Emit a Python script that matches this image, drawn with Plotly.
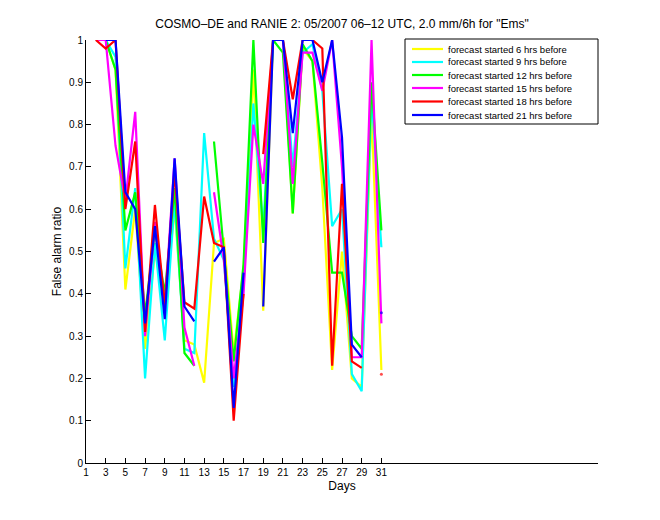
import plotly.graph_objects as go

days = list(range(1, 32))
N = None
fc6 = [N, 1.0, 1.0, 0.93, 0.41, 0.60, 0.27, 0.50, 0.38, 0.60, 0.29, 0.28, 0.19, 0.52, 0.53, 0.26,
       0.46, 0.93, 0.36, 1.0, 1.0, 0.59, 0.98, 0.95, 0.65, 0.22, 0.50, 0.20, 0.18, 0.83, 0.22]
fc9 = [N, 1.0, 1.0, 0.96, 0.46, 0.65, 0.20, 0.52, 0.29, 0.62, 0.27, 0.26, 0.78, 0.53, 0.48, 0.18,
       0.42, 0.85, 0.55, 1.0, 1.0, 0.70, 0.97, 0.99, 0.88, 0.56, 0.60, 0.21, 0.17, 0.87, 0.51]
fc12 = [N, 1.0, 1.0, 0.93, 0.55, 0.64, 0.35, 0.55, 0.40, 0.65, 0.26, 0.23, N, 0.76, 0.50, 0.24,
        0.47, 1.0, 0.52, 1.0, 0.97, 0.59, 0.99, 0.95, 0.71, 0.45, 0.45, 0.30, 0.27, 0.90, 0.55]
fc15 = [N, 1.0, 1.0, 0.75, 0.62, 0.83, 0.30, 0.57, 0.37, 0.72, 0.32, 0.23, N, 0.64, 0.48, 0.20,
        0.40, 0.80, 0.66, 1.0, 1.0, 0.66, 0.97, 0.97, 0.88, 1.0, 0.70, 0.25, 0.25, 1.0, 0.33]
fc18 = [N, 1.0, 0.98, 1.0, 0.60, 0.76, 0.31, 0.61, 0.37, 0.69, 0.38, 0.365, 0.63, 0.52, 0.51, 0.10,
        0.40, N, 0.73, 1.0, 1.0, 0.86, 1.0, 1.0, 0.98, 0.23, 0.66, 0.24, 0.225, N, 0.21]
fc21 = [N, N, 1.0, 1.0, 0.64, 0.60, 0.33, 0.56, 0.34, 0.72, 0.37, 0.335, N, 0.476, 0.51, 0.13,
        0.45, N, 0.37, 1.0, 1.0, 0.78, 1.0, 1.0, 0.90, 1.0, 0.77, 0.28, 0.25, N, 0.355]

names = ["forecast started 6 hrs before", "forecast started 9 hrs before",
         "forecast started 12 hrs before", "forecast started 15 hrs before",
         "forecast started 18 hrs before", "forecast started 21 hrs before"]
values = [fc6, fc9, fc12, fc15, fc18, fc21]
colors = ["#ffff00", "#00ffff", "#00ff00", "#ff00ff", "#ff0000", "#0000ff"]

x_ticks = list(range(1, 32, 2))
y_ticks = [i / 10 for i in range(11)]
y_tick_text = ["0"] + [f"{v:.1f}" for v in y_ticks[1:-1]] + ["1"]

fig = go.Figure()
for name, vals, col in zip(names, values, colors):
    sizes = []
    for i, v in enumerate(vals):
        prev = vals[i - 1] if i > 0 else None
        nxt = vals[i + 1] if i < len(vals) - 1 else None
        sizes.append(3 if (v is not None and prev is None and nxt is None) else 0)
    fig.add_trace(go.Scatter(
        x=days, y=vals, name=name, mode="lines+markers",
        line=dict(color=col, width=2.2),
        marker=dict(size=sizes, color=col, line=dict(width=0)),
        connectgaps=False, showlegend=False,
    ))

# legend box (MATLAB style), placed in paper coords of the plot area
L, R, T, B = 86, 598, 40, 463
def px(x):
    return (x - L) / (R - L)
def py(y):
    return (B - y) / (B - T)

font = "Liberation Sans, Arial, Helvetica, sans-serif"
shapes = [dict(type="rect", xref="paper", yref="paper", x0=px(405), x1=px(598),
               y0=py(124), y1=py(39), line=dict(color="black", width=1), fillcolor="white",
               layer="above")]
annotations = []
row_y = [49, 62, 75, 88, 101.5, 115]
for name, col, ry in zip(names, colors, row_y):
    shapes.append(dict(type="line", xref="paper", yref="paper", x0=px(412), x1=px(443),
                       y0=py(ry), y1=py(ry), line=dict(color=col, width=2.2), layer="above"))
    annotations.append(dict(text=name, xref="paper", yref="paper", x=px(446), y=py(ry),
                            xanchor="left", yanchor="middle", showarrow=False,
                            font=dict(size=9.5, family=font, color="black")))

fig.update_layout(
    width=660, height=520,
    paper_bgcolor="white", plot_bgcolor="white",
    margin=dict(l=L, r=660 - R, t=T, b=520 - B),
    font=dict(family=font, size=10, color="black"),
    title=dict(text='COSMO–DE and RANIE 2: 05/2007 06–12 UTC, 2.0 mm/6h for "Ems"',
               x=342 / 660, xanchor="center", y=1 - 24 / 520, yanchor="middle",
               font=dict(size=12, family=font)),
    xaxis=dict(range=[1, 53], tickvals=x_ticks, ticktext=[str(t) for t in x_ticks],
               showline=True, linecolor="black", linewidth=1, mirror=False,
               ticks="inside", ticklen=5, tickcolor="black", showgrid=False, zeroline=False,
               title=dict(text="Days", standoff=4, font=dict(size=12))),
    yaxis=dict(range=[0, 1], tickvals=y_ticks, ticktext=y_tick_text,
               showline=True, linecolor="black", linewidth=1, mirror=False,
               ticks="inside", ticklen=5, tickcolor="black", showgrid=False, zeroline=False,
               title=dict(text="False alarm ratio", standoff=4, font=dict(size=12))),
    shapes=shapes, annotations=annotations,
    showlegend=False,
)

fig.write_html("out.html")
